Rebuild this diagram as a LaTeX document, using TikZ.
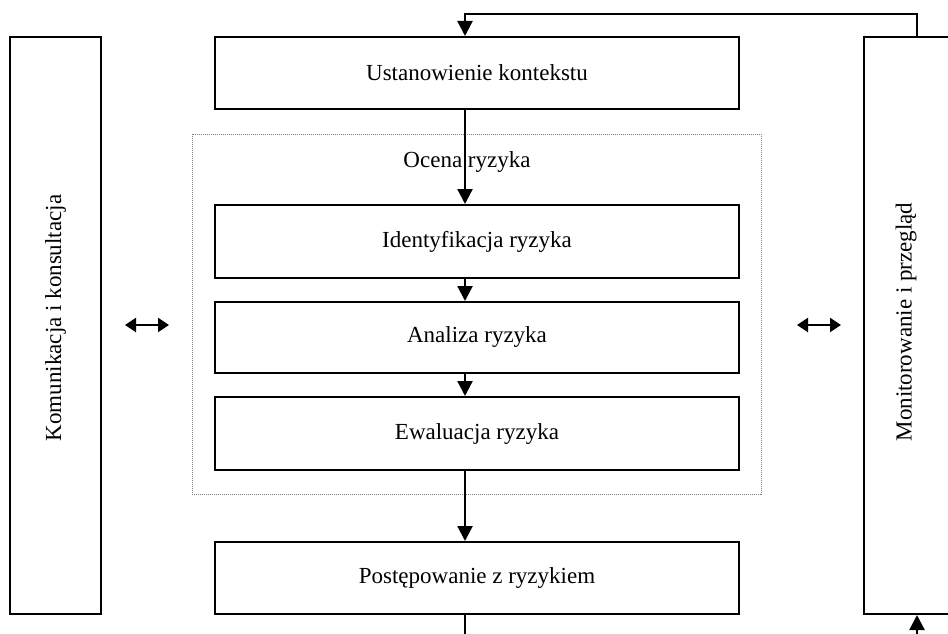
\documentclass[tikz,border=0pt]{standalone}
\usepackage{fontspec}
\setmainfont{Liberation Serif}
\usetikzlibrary{arrows.meta}
\begin{document}
\begin{tikzpicture}[x=1pt,y=-1pt,
 box/.style={draw, line width=2pt, inner sep=0pt, minimum width=524pt, font=\fontsize{23}{27}\selectfont},
 sidebox/.style={draw, line width=2pt, inner sep=0pt, minimum width=91pt, minimum height=577pt},
 txt/.style={font=\fontsize{23}{27}\selectfont, inner sep=0pt},
 conn/.style={line width=2.2pt, -{Triangle[length=15pt,width=15pt]}},
 plainline/.style={line width=2.2pt},
 dbl/.style={line width=2pt, {Triangle[length=11pt,width=14pt]}-{Triangle[length=11pt,width=14pt]}},
 groupbox/.style={draw=gray, line width=1pt, densely dotted}]
\useasboundingbox (0,0) rectangle (948,634);
\clip (0,0) rectangle (948,634);
% side boxes
\node[sidebox] (kom) at (55.5,325.5) {};
\node[txt, rotate=90] (komt) at (55.5,318) {Komunikacja i konsultacja};
\node[sidebox] (mon) at (909.5,325.5) {};
\node[txt, rotate=90] (mont) at (906,322) {Monitorowanie i przegląd};
% group box
\draw[groupbox] (192,134) rectangle (761,494);
\node[txt] (ocena) at (467,162) {Ocena ryzyka};
% main boxes
\node[box, minimum height=72pt] (ust) at (477,73) {Ustanowienie kontekstu};
\node[box, minimum height=73pt] (ide) at (477,241.5) {Identyfikacja ryzyka};
\node[box, minimum height=71pt] (ana) at (477,337.5) {Analiza ryzyka};
\node[box, minimum height=73pt] (ewa) at (477,433.5) {Ewaluacja ryzyka};
\node[box, minimum height=72pt] (pos) at (477,578) {Postępowanie z ryzykiem};
% helper coordinates
\coordinate (colx) at (465,0);
\coordinate (loopR) at (917,14);
\coordinate (loopL) at (465,14);
\coordinate (botL) at (465,636);
\coordinate (botR) at (917,636);
\coordinate (dl1) at (125,325);
\coordinate (dl2) at (169,325);
\coordinate (dr1) at (797,325);
\coordinate (dr2) at (841,325);
% connectors
\draw[conn] (ust.south -| colx) -- (ide.north -| colx);
\draw[conn] (ide.south -| colx) -- (ana.north -| colx);
\draw[conn] (ana.south -| colx) -- (ewa.north -| colx);
\draw[conn] (ewa.south -| colx) -- (pos.north -| colx);
\draw[plainline] (pos.south -| colx) -- (botL);
\draw[conn] (botR) -- (mon.south -| botR);
\draw[conn] (mon.north -| loopR) -- (loopR) -- (loopL) -- (ust.north -| loopL);
\draw[dbl] (dl1) -- (dl2);
\draw[dbl] (dr1) -- (dr2);
\end{tikzpicture}
\end{document}
